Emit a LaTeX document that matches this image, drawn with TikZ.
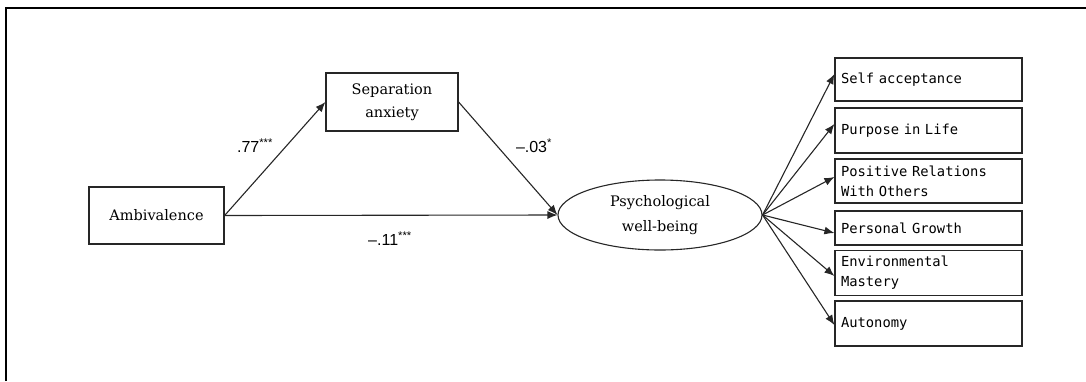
\documentclass[tikz,border=0pt]{standalone}
\usepackage{fontspec}
\setmainfont{DejaVu Serif}
\newfontfamily\monofnt{DejaVu Sans Mono}
\newfontfamily\numfnt{Liberation Sans}
\usetikzlibrary{arrows.meta,shapes.geometric}
\begin{document}
\begin{tikzpicture}[x=1pt,y=-1pt,
  box/.style={draw=black!85,line width=1.2pt,rectangle,inner sep=0pt,align=center,
    font=\fontsize{14.5}{23}\selectfont},
  rbox/.style={draw=black!85,line width=1.2pt,rectangle,inner sep=6pt,minimum width=187pt,
    text width=175pt,align=left,font=\monofnt\fontsize{13.8}{20}\selectfont},
  lat/.style={draw=black!85,line width=1.1pt,ellipse,inner sep=0pt,minimum width=204pt,
    minimum height=70pt,align=center,font=\fontsize{14.5}{25}\selectfont},
  arr/.style={draw=black!85,line width=1.1pt,-{Latex[length=10pt,width=8pt]}},
  coef/.style={font=\numfnt\fontsize{16}{18}\selectfont,inner sep=0pt}]
\useasboundingbox (0,0) rectangle (1086,381);
\draw[line width=1.6pt] (6,381) -- (6,8) -- (1086,8);
\node[box,minimum width=135pt,minimum height=57pt] (amb) at (156.5,215.5) {Ambivalence};
\node[box,minimum width=132pt,minimum height=58pt] (sep) at (392,102) {Separation\\anxiety};
\node[lat] (pwb) at (660,215) {Psychological\\well-being};
\node[rbox,minimum height=43pt] (b1) at (928.5,79.5) {Self acceptance};
\node[rbox,minimum height=45pt] (b2) at (928.5,130.5) {Purpose in Life};
\node[rbox,minimum height=44pt] (b3) at (928.5,181) {Positive Relations\\With Others};
\node[rbox,minimum height=34pt] (b4) at (928.5,228) {Personal Growth};
\node[rbox,minimum height=44pt] (b5) at (928.5,273) {Environmental\\Mastery};
\node[rbox,minimum height=45pt] (b6) at (928.5,323.5) {Autonomy};
\draw[arr] (amb.east) -- (sep.west);
\draw[arr] (amb.east) -- (pwb.west);
\draw[arr] (sep.east) -- (pwb.west);
\draw[arr] (pwb.east) -- ([yshift=5.5pt]b1.west);
\draw[arr] (pwb.east) -- ([yshift=6.5pt]b2.west);
\draw[arr] (pwb.east) -- ([yshift=4pt]b3.west);
\draw[arr] (pwb.east) -- ([yshift=-5pt]b4.west);
\draw[arr] (pwb.east) -- ([yshift=-3pt]b5.west);
\draw[arr] (pwb.east) -- ([yshift=-1.5pt]b6.west);
\node[coef] (c1) at (255,146) {.77\textsuperscript{***}};
\node[coef] (c2) at (390,239) {\textendash.11\textsuperscript{***}};
\node[coef] (c3) at (534,146) {\textendash.03\textsuperscript{*}};
\end{tikzpicture}
\end{document}
